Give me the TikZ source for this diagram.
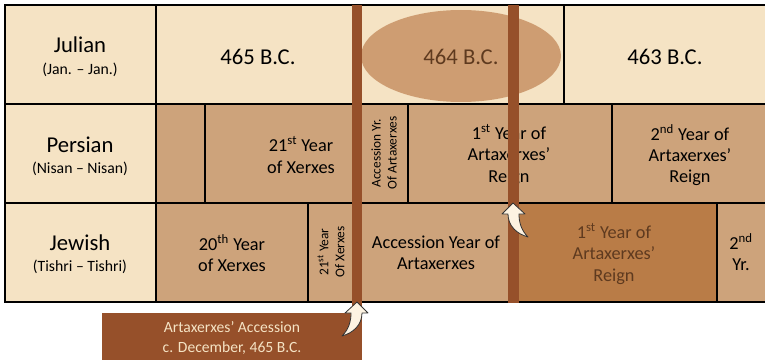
\documentclass[tikz,border=0pt]{standalone}
\usepackage{fontspec}
\setmainfont{Carlito}
\definecolor{yearcream}{HTML}{F5E3C4}
\definecolor{yeartan}{HTML}{CDA37B}
\definecolor{reigntan}{HTML}{B97C47}
\definecolor{barbrown}{HTML}{96502A}
\definecolor{ovalbrown}{HTML}{CE9D72}
\definecolor{darktext}{HTML}{5E3A1F}
\definecolor{arrowcream}{HTML}{FDF3E2}
\begin{document}
\begin{tikzpicture}[x=0.75pt,y=-0.75pt]
\clip(0,0) rectangle (765,360);
\tikzstyle{cell}=[draw=black,line width=1.5pt]
\tikzstyle{head}=[font=\fontsize{17}{20}\selectfont,align=center]
\tikzstyle{sub}=[font=\fontsize{11.8}{14}\selectfont,align=center]
\tikzstyle{year}=[font=\fontsize{17}{20}\selectfont]
\tikzstyle{reign}=[font=\fontsize{13.7}{16}\selectfont,align=center]
\tikzstyle{side}=[font=\fontsize{10}{12}\selectfont,align=center,rotate=90]
\tikzstyle{markarrow}=[fill=arrowcream,draw=black!80,line width=0.6pt,line join=round]
% Julian row
\filldraw[cell,fill=yearcream] (5,5) rectangle (156,104);
\filldraw[cell,fill=yearcream] (156,5) rectangle (360,104);
\filldraw[cell,fill=yearcream] (360,5) rectangle (564,104);
\filldraw[cell,fill=yearcream] (564,5) rectangle (775,104);
\fill[color=ovalbrown] (461,56) ellipse [x radius=100,y radius=46];
% Persian row
\filldraw[cell,fill=yearcream] (5,104) rectangle (156,203);
\filldraw[cell,fill=yeartan] (156,104) rectangle (205,203);
\filldraw[cell,fill=yeartan] (205,104) rectangle (356,203);
\filldraw[cell,fill=yeartan] (356,104) rectangle (408,203);
\filldraw[cell,fill=yeartan] (408,104) rectangle (612,203);
\filldraw[cell,fill=yeartan] (612,104) rectangle (775,203);
% Jewish row
\filldraw[cell,fill=yearcream] (5,203) rectangle (156,302);
\filldraw[cell,fill=yeartan] (156,203) rectangle (308,302);
\filldraw[cell,fill=yeartan] (308,203) rectangle (357,302);
\filldraw[cell,fill=yeartan] (357,203) rectangle (515,302);
\filldraw[cell,fill=reigntan] (515,203) rectangle (717,302);
\filldraw[cell,fill=yeartan] (717,203) rectangle (775,302);
% labels
\node (julian)[head] at (80,45) {Julian};
\node (juliansub)[sub] at (80,70) {(Jan. -- Jan.)};
\node (persian)[head] at (80,145) {Persian};
\node (persiansub)[sub] at (80,169) {(Nisan -- Nisan)};
\node (jewish)[head] at (80,243) {Jewish};
\node (jewishsub)[sub] at (80,267) {(Tishri -- Tishri)};
\node (bc465)[year] at (258,57) {465 B.C.};
\node (bc464)[year,text=darktext] at (461,57) {464 B.C.};
\node (bc463)[year] at (665,57) {463 B.C.};
\node (xerxes21)[reign] at (301,155) {21\textsuperscript{st} Year\\of Xerxes};
\node (accyr)[side] at (384,153) {Accession Yr.\\Of Artaxerxes};
\node (artax1p)[reign] at (509,155) {1\textsuperscript{st} Year of\\Artaxerxes’\\Reign};
\node (artax2p)[reign] at (690,155) {2\textsuperscript{nd} Year of\\Artaxerxes’\\Reign};
\node (xerxes20)[reign] at (232,253) {20\textsuperscript{th} Year\\of Xerxes};
\node (xerxes21j)[side] at (331,252) {21\textsuperscript{st} Year\\Of Xerxes};
\node (accyear)[reign] at (436,253) {Accession Year of\\Artaxerxes};
\node (artax1j)[reign,text=darktext] at (614,254) {1\textsuperscript{st} Year of\\Artaxerxes’\\Reign};
\node (artax2j)[reign] at (741,252) {2\textsuperscript{nd}\\Yr.};
% accession markers
\fill[color=barbrown] (352,5) rectangle (362,313);
\fill[color=barbrown] (508,5) rectangle (519,303);
\fill[color=barbrown] (102,313) rectangle (362,365);
\node (accession)[font=\fontsize{11.7}{14.5}\selectfont,align=center,text=yearcream] at (232,338) {Artaxerxes’ Accession\\c. December, 465 B.C.};
\coordinate (tipA) at (357,302);
\coordinate (tipB) at (513,203);
\begin{scope}[shift={(tipA)}]
  \filldraw[markarrow] (0,0) -- (11,11) -- (5,11) .. controls (5,23) and (-4,31) .. (-15,34) .. controls (-8,27) and (-6,19) .. (-6,11) -- (-12,11) -- cycle;
\end{scope}
\begin{scope}[shift={(tipB)},xscale=-1]
  \filldraw[markarrow] (0,0) -- (11,11) -- (5,11) .. controls (5,23) and (-4,31) .. (-15,34) .. controls (-8,27) and (-6,19) .. (-6,11) -- (-12,11) -- cycle;
\end{scope}
\end{tikzpicture}
\end{document}
